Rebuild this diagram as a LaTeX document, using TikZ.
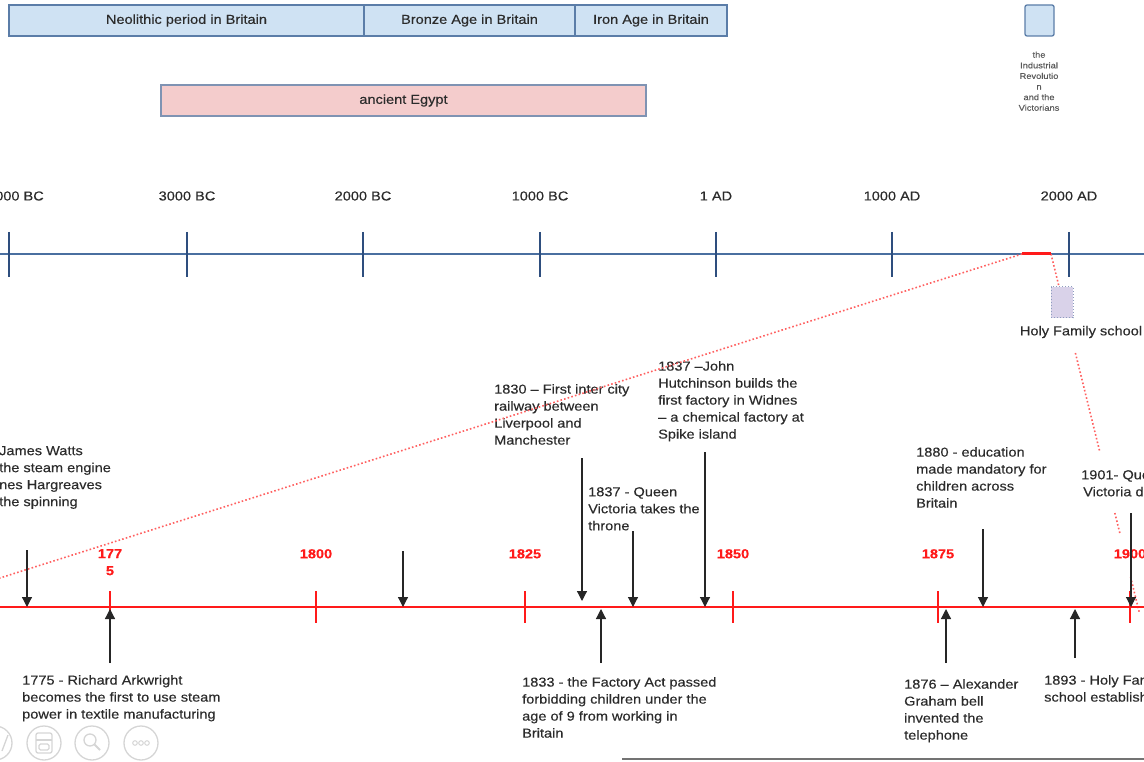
\documentclass[tikz,border=0pt]{standalone}
\usepackage{fontspec}
\setmainfont[FakeStretch=1.12, FakeBold=0.3]{Liberation Sans}
\usetikzlibrary{arrows.meta}
\definecolor{txt}{HTML}{2B2B2B}
\definecolor{smalltxt}{HTML}{5A5A5A}
\definecolor{barfill}{HTML}{CFE2F3}
\definecolor{barline}{HTML}{5B7DA8}
\definecolor{egfill}{HTML}{F4CCCC}
\definecolor{egline}{HTML}{7F93B3}
\definecolor{axblue}{HTML}{4A6FA0}
\definecolor{tickblue}{HTML}{2E4E7E}
\definecolor{tlred}{HTML}{FF1A1A}
\definecolor{dotred}{HTML}{FF6060}
\definecolor{lav}{HTML}{D9D2E9}
\definecolor{lavline}{HTML}{8E9DBF}
\definecolor{icon}{HTML}{D5D5D5}
\begin{document}
\begin{tikzpicture}[x=1pt,y=-1pt,
  bodytext/.style={font=\fontsize{13}{17}\selectfont, text=txt, align=left, anchor=north west, inner sep=0pt},
  axlabel/.style={font=\fontsize{13}{15}\selectfont, text=txt, inner sep=0pt},
  yrlabel/.style={font=\fontsize{13}{17}\selectfont\bfseries, text=tlred, align=center, inner sep=0pt, anchor=north},
  bar/.style={draw=barline, fill=barfill, line width=1.3pt, font=\fontsize{13}{15}\selectfont, text=txt, inner sep=0pt},
  egbar/.style={bar, draw=egline, fill=egfill},
  bluetick/.style={draw=tickblue, line width=1.4pt},
  redtick/.style={draw=tlred, line width=2pt},
  arr/.style={-{Triangle[width=10pt,length=10pt]}, line width=1.2pt, draw=black!85, fill=black!85},
  reddots/.style={draw=dotred, line width=1.6pt, dash pattern=on 1.6pt off 2.2pt},
  iconring/.style={draw=icon, line width=1.3pt}
]
\useasboundingbox (0,0) rectangle (1144,762);
\clip (0,0) rectangle (1144,762);

% ---------- period bars ----------
\node[bar, minimum width=355pt, minimum height=31pt] (neo) at (186.5,20.5) {Neolithic period in Britain};
\node[bar, minimum width=211pt, minimum height=31pt] (bronze) at (469.5,20.5) {Bronze Age in Britain};
\node[bar, minimum width=152pt, minimum height=31pt] (iron) at (651,20.5) {Iron Age in Britain};
\node[egbar, minimum width=485pt, minimum height=31pt] (egypt) at (403.5,100.5) {ancient Egypt};
\node[bar, rounded corners=2pt, minimum width=29pt, minimum height=31pt] (indbox) at (1039.5,20.5) {};
\node[font=\fontsize{8.3}{10.6}\selectfont, text=smalltxt, align=center, inner sep=0pt, anchor=north] (indtext) at (1039,51.5)
  {the\\Industrial\\Revolutio\\n\\and the\\Victorians};

% ---------- main (blue) timeline ----------
\coordinate (bl) at (0,254);
\coordinate (br) at (1144,254);
\draw[draw=axblue, line width=2pt] (bl) -- (br);
\foreach \x/\nm in {9/t4,187/t3,363/t2,540/t1,716/t0,892/ta,1069/tb}{
  \coordinate (\nm u) at (\x,232);
  \coordinate (\nm d) at (\x,277);
  \draw[bluetick] (\nm u) -- (\nm d);
}
\node[axlabel, anchor=east] (l4000) at (44,196) {000 BC};
\node[axlabel] (l3000) at (187,196) {3000 BC};
\node[axlabel] (l2000) at (363,196) {2000 BC};
\node[axlabel] (l1000) at (540,196) {1000 BC};
\node[axlabel] (l1ad) at (716,196) {1 AD};
\node[axlabel] (l1000ad) at (892,196) {1000 AD};
\node[axlabel] (l2000ad) at (1069,196) {2000 AD};

% zoom segment
\coordinate (zs) at (1022,254);
\coordinate (ze) at (1051,254);

% dotted link to the school marker (partly hidden behind boxes and labels)
\coordinate (d1) at (1059.1,287);
\coordinate (d2) at (1075.4,353);
\coordinate (d3) at (1099.6,451);
\coordinate (d4) at (1114.8,513);
\coordinate (d5) at (1119.8,533);
\coordinate (d6) at (1130.6,577);
\coordinate (d7) at (1139.2,612);
\draw[reddots] (ze) -- (d1);
\draw[reddots] (d2) -- (d3);
\draw[reddots] (d4) -- (d5);
\draw[reddots] (d6) -- (d7);

\draw[draw=tlred, line width=3pt] (zs) -- (ze);

\node[draw=lavline, fill=lav, dotted, line width=1pt, minimum width=22pt, minimum height=31pt, inner sep=0pt] (school) at (1062,302.5) {};
\node[font=\fontsize{13}{15}\selectfont, text=txt, inner sep=0pt] (schoollbl) at (1081,332) {Holy Family school};

% ---------- zoomed (red) timeline ----------
\coordinate (rl) at (0,607);
\coordinate (rr) at (1144,607);
\draw[draw=tlred, line width=2.2pt] (rl) -- (rr);
\foreach \x/\nm in {110/r1775,316/r1800,525/r1825,733/r1850,938/r1875,1130/r1900}{
  \coordinate (\nm u) at (\x,591);
  \coordinate (\nm d) at (\x,623);
  \draw[redtick] (\nm u) -- (\nm d);
}
\node[yrlabel] (y1775) at (110,549) {177\\5};
\node[yrlabel] (y1800) at (316,549) {1800};
\node[yrlabel] (y1825) at (525,549) {1825};
\node[yrlabel] (y1850) at (733,549) {1850};
\node[yrlabel] (y1875) at (938,549) {1875};
\node[yrlabel] (y1900) at (1130,549) {1900};

% ---------- event labels ----------
\node[bodytext] (watts) at (-1,446) {James Watts\\the steam engine\\nes Hargreaves\\the spinning};
\node[bodytext] (ark) at (22,675) {1775 - Richard Arkwright\\becomes the first to use steam\\power in textile manufacturing};
\node[bodytext] (rail) at (494,384) {1830 – First inter city\\railway between\\Liverpool and\\Manchester};
\node[bodytext] (qv) at (588,487) {1837 - Queen\\Victoria takes the\\throne};
\node[bodytext] (jh) at (658,361) {1837 –John\\Hutchinson builds the\\first factory in Widnes\\– a chemical factory at\\Spike island};
\node[bodytext] (fact) at (522,677) {1833 - the Factory Act passed\\forbidding children under the\\age of 9 from working in\\Britain};
\node[bodytext] (edu) at (916,447) {1880 - education\\made mandatory for\\children across\\Britain};
\node[bodytext] (bell) at (904,679) {1876 – Alexander\\Graham bell\\invented the\\telephone};
\node[bodytext] (hfs) at (1044,675) {1893 - Holy Fam\\school establish};
\node[bodytext] (vd) at (1081,470) {1901- Que\\\hspace*{2pt}Victoria d};

% ---------- event arrows ----------
\coordinate (aWs) at (27,550);   \coordinate (aWe) at (27,607);
\coordinate (aXs) at (403,551);  \coordinate (aXe) at (403,607);
\coordinate (aRs) at (582,458);  \coordinate (aRe) at (582,601);
\coordinate (aQs) at (633,531);  \coordinate (aQe) at (633,607);
\coordinate (aJs) at (705,452);  \coordinate (aJe) at (705,607);
\coordinate (aEs) at (983,529);  \coordinate (aEe) at (983,607);
\coordinate (aVs) at (1131,513); \coordinate (aVe) at (1131,607);
\coordinate (aAs) at (110,663);  \coordinate (aAe) at (110,609);
\coordinate (aFs) at (601,663);  \coordinate (aFe) at (601,609);
\coordinate (aBs) at (946,663);  \coordinate (aBe) at (946,609);
\coordinate (aHs) at (1075,658); \coordinate (aHe) at (1075,609);
\foreach \s/\e in {aWs/aWe,aXs/aXe,aRs/aRe,aQs/aQe,aJs/aJe,aEs/aEe,aVs/aVe,aAs/aAe,aFs/aFe,aBs/aBe,aHs/aHe}{
  \draw[arr] (\s) -- (\e);
}

% dotted link from the zoom segment to the red timeline
\coordinate (lk) at (-30,587.5);
\draw[reddots] (zs) -- (lk);

% ---------- bottom edge line ----------
\coordinate (gl) at (622,759);
\coordinate (gr) at (1144,759);
\draw[draw=black!55, line width=2pt] (gl) -- (gr);

% ---------- viewer controls ----------
\draw[iconring] (-5,743) circle[radius=17];
\draw[iconring] (2,751) -- (8,735);
\draw[iconring] (44,743) circle[radius=17];
\draw[iconring, rounded corners=2pt] (36,733) rectangle (52,753);
\draw[iconring] (36,740) -- (52,740);
\draw[iconring, rounded corners=1.5pt] (39,744) rectangle (49,750);
\draw[iconring] (92,743) circle[radius=17];
\draw[iconring] (90,740) circle[radius=6];
\draw[iconring, line width=2pt] (94.5,744.5) -- (100,750);
\draw[iconring] (141,743) circle[radius=17];
\foreach \dx in {-6,0,6}{ \draw[iconring, line width=1pt] (141+\dx,743) circle[radius=2.3]; }
\end{tikzpicture}
\end{document}
